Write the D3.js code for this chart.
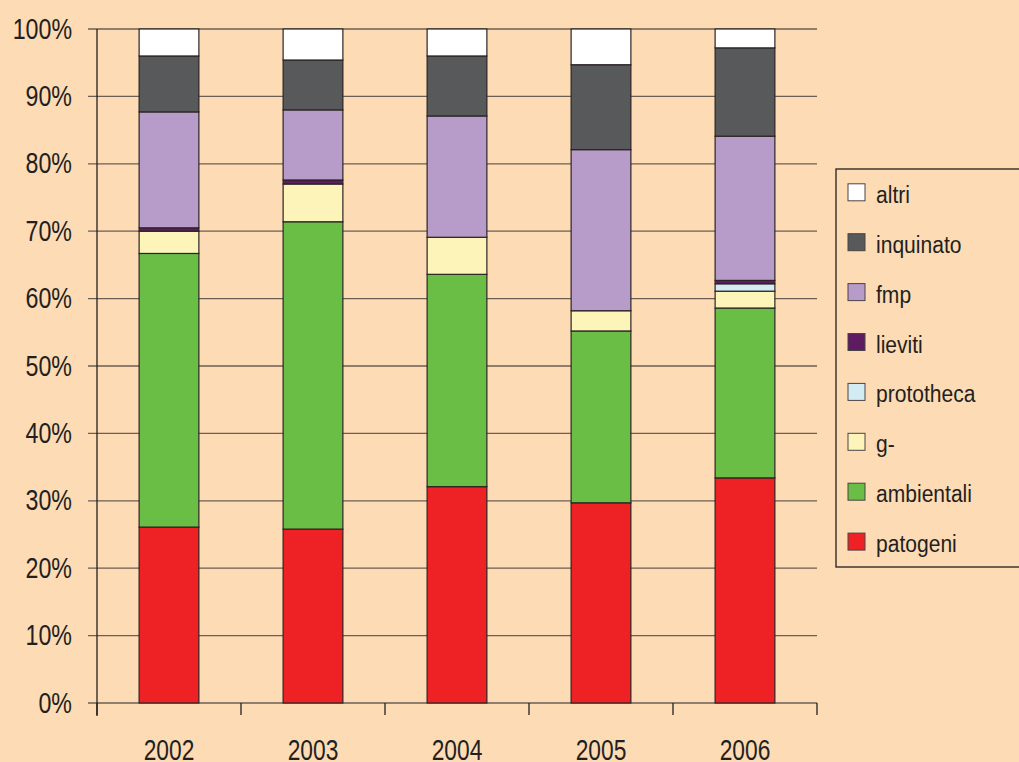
<!DOCTYPE html>
<html>
<head>
<meta charset="utf-8">
<script src="https://cdn.jsdelivr.net/npm/d3@7/dist/d3.min.js"></script>
<style>
  html, body { margin: 0; padding: 0; background: #fddbb5; }
  svg { display: block; }
  text { font-family: "Liberation Sans", Arial, sans-serif; fill: #231f20; }
</style>
</head>
<body>
<svg id="chart" width="1019" height="762"></svg>
<script>
// ---- data ----
const years = ["2002", "2003", "2004", "2005", "2006"];
const seriesNames = ["patogeni", "ambientali", "g-", "prototheca", "lieviti", "fmp", "inquinato", "altri"];
const patogeni   = [26.1, 25.8, 32.1, 29.7, 33.4];
const ambientali = [40.6, 45.6, 31.5, 25.5, 25.2];
const gneg       = [3.3, 5.6, 5.5, 3.0, 2.5];
const prototheca = [0.0, 0.0, 0.0, 0.0, 1.1];
const lieviti    = [0.5, 0.6, 0.0, 0.0, 0.5];
const fmp        = [17.2, 10.4, 18.0, 23.9, 21.4];
const inquinato  = [8.3, 7.4, 8.9, 12.6, 13.1];
const altri      = [4.0, 4.6, 4.0, 5.3, 2.8];
const yTickValues = [0, 10, 20, 30, 40, 50, 60, 70, 80, 90, 100];
const yTickLabels = ["0%", "10%", "20%", "30%", "40%", "50%", "60%", "70%", "80%", "90%", "100%"];
const colors = ["#ee2224", "#6abd45", "#fcf4b8", "#d3ecf4", "#5f1b62", "#b79bc9", "#58595b", "#ffffff"];
const legendOrder = ["altri", "inquinato", "fmp", "lieviti", "prototheca", "g-", "ambientali", "patogeni"];

const valuesBySeries = [patogeni, ambientali, gneg, prototheca, lieviti, fmp, inquinato, altri];
const rows = years.map((y, i) => {
  const r = { year: y };
  seriesNames.forEach((s, k) => { r[s] = valuesBySeries[k][i]; });
  return r;
});

// ---- layout ----
const svg = d3.select("#chart");
svg.append("rect").attr("width", 1019).attr("height", 762).attr("fill", "#fddbb5");

const plotLeft = 97, plotRight = 817, plotTop = 29, plotBottom = 703;
const x = d3.scaleBand().domain(years).range([plotLeft, plotRight]).padding(0);
const y = d3.scaleLinear().domain([0, 1]).range([plotBottom, plotTop]);
const color = d3.scaleOrdinal().domain(seriesNames).range(colors);

const stack = d3.stack().keys(seriesNames).offset(d3.stackOffsetExpand);
const stacked = stack(rows);

// gridlines
svg.append("g").selectAll("line").data(yTickValues).join("line")
  .attr("x1", 88).attr("x2", plotRight)
  .attr("y1", d => y(d / 100)).attr("y2", d => y(d / 100))
  .attr("stroke", "#6b5e55").attr("stroke-width", 1.3);

// y tick labels (condensed look)
svg.append("g").selectAll("text").data(yTickValues).join("text")
  .attr("transform", d => `translate(72,${y(d / 100) + 9.5}) scale(0.8,1)`)
  .attr("text-anchor", "end")
  .attr("font-size", 29)
  .text((d, i) => yTickLabels[i]);

// bars
const barW = x.bandwidth() * 0.415;
svg.append("g").selectAll("g").data(stacked).join("g")
  .attr("fill", d => color(d.key))
  .selectAll("rect").data(d => d).join("rect")
  .attr("x", d => x(d.data.year) + (x.bandwidth() - barW) / 2)
  .attr("width", barW)
  .attr("y", d => y(d[1]))
  .attr("height", d => Math.max(0, y(d[0]) - y(d[1])))
  .attr("stroke", "#2a2425").attr("stroke-width", 1.2);

// y axis line
svg.append("line").attr("x1", plotLeft).attr("x2", plotLeft)
  .attr("y1", plotTop).attr("y2", 716)
  .attr("stroke", "#231f20").attr("stroke-width", 1.3);

// x axis ticks at band boundaries
const boundaries = years.map(d => x(d)).concat([plotRight]);
svg.append("g").selectAll("line").data(boundaries).join("line")
  .attr("x1", d => d).attr("x2", d => d)
  .attr("y1", plotBottom).attr("y2", 715)
  .attr("stroke", "#231f20").attr("stroke-width", 1.3);

// x labels
svg.append("g").selectAll("text").data(years).join("text")
  .attr("transform", d => `translate(${x(d) + x.bandwidth() / 2},760) scale(0.76,1)`)
  .attr("text-anchor", "middle")
  .attr("font-size", 30)
  .text(d => d);

// legend
const legend = svg.append("g");
legend.append("rect").attr("x", 836).attr("y", 169).attr("width", 200).attr("height", 398)
  .attr("fill", "none").attr("stroke", "#231f20").attr("stroke-width", 1.3);
const li = legend.selectAll("g.item").data(legendOrder).join("g")
  .attr("class", "item")
  .attr("transform", (d, i) => `translate(848,${192.3 + i * 49.9})`);
li.append("rect").attr("x", 0).attr("y", -8.5).attr("width", 17).attr("height", 17)
  .attr("fill", d => color(d)).attr("stroke", "#4a4445").attr("stroke-width", 1);
li.append("text")
  .attr("transform", "translate(28,10.5) scale(0.86,1)")
  .attr("font-size", 24.5)
  .text(d => d);
</script>
</body>
</html>
